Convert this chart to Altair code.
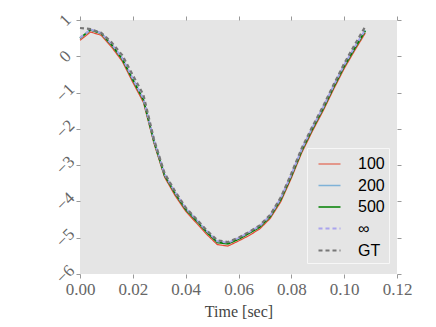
import altair as alt
import pandas as pd

t = [0.000, 0.004, 0.008, 0.012, 0.016, 0.020, 0.024, 0.028, 0.032, 0.036,
     0.040, 0.044, 0.048, 0.052, 0.056, 0.060, 0.064, 0.068, 0.072, 0.076,
     0.080, 0.084, 0.088, 0.092, 0.096, 0.100, 0.104, 0.108]

s100 = [0.44, 0.67, 0.58, 0.25, -0.14, -0.72, -1.27, -2.40, -3.33, -3.84,
        -4.27, -4.59, -4.91, -5.19, -5.23, -5.09, -4.94, -4.76, -4.47, -4.01,
        -3.36, -2.65, -2.06, -1.51, -0.91, -0.34, 0.16, 0.64]
s200 = [0.49, 0.73, 0.64, 0.32, -0.06, -0.63, -1.18, -2.33, -3.26, -3.76,
        -4.20, -4.51, -4.83, -5.11, -5.15, -5.02, -4.86, -4.69, -4.40, -3.92,
        -3.27, -2.56, -1.97, -1.42, -0.82, -0.25, 0.24, 0.72]
s500 = [0.50, 0.73, 0.63, 0.31, -0.08, -0.65, -1.20, -2.35, -3.28, -3.78,
        -4.22, -4.53, -4.85, -5.13, -5.17, -5.04, -4.88, -4.71, -4.42, -3.95,
        -3.30, -2.59, -2.00, -1.45, -0.85, -0.28, 0.22, 0.70]
sinf = [0.51, 0.74, 0.64, 0.33, -0.05, -0.62, -1.17, -2.32, -3.25, -3.75,
        -4.19, -4.50, -4.82, -5.10, -5.14, -5.01, -4.85, -4.68, -4.39, -3.91,
        -3.26, -2.55, -1.96, -1.41, -0.81, -0.24, 0.26, 0.73]
sgt = [0.78, 0.75, 0.65, 0.38, 0.03, -0.52, -1.06, -2.28, -3.22, -3.72,
       -4.17, -4.48, -4.80, -5.07, -5.12, -5.00, -4.84, -4.66, -4.37, -3.89,
       -3.23, -2.52, -1.93, -1.38, -0.78, -0.20, 0.32, 0.82]

series_names = ["100", "200", "500", "∞", "GT"]
series_vals = [s100, s200, s500, sinf, sgt]
colors = ["#e24a33", "#7fb2d8", "#008000", "#aaa4ee", "#777777"]
dashes = [[1, 0], [1, 0], [1, 0], [4, 3], [4, 3]]
widths = [1.2, 2.2, 1.3, 1.6, 1.0]

x_ticks = [0.0, 0.02, 0.04, 0.06, 0.08, 0.10, 0.12]
y_ticks = [1, 0, -1, -2, -3, -4, -5, -6]

rows = []
for name, vals in zip(series_names, series_vals):
    for ti, vi in zip(t, vals):
        rows.append({"t": ti, "v": vi, "s": name})
df = pd.DataFrame(rows)

xscale = alt.Scale(domain=[0, 0.12], nice=False, zero=False)
yscale = alt.Scale(domain=[-6, 1], nice=False, zero=False)

label_expr_y = "datum.value < 0 ? '−' + abs(datum.value) : '' + datum.value"

base = alt.Chart(df).mark_line().encode(
    x=alt.X("t:Q", scale=xscale,
            axis=alt.Axis(values=x_ticks, format=".2f", title="Time [sec]",
                          labelPadding=3, titlePadding=6, labelFlush=False)),
    y=alt.Y("v:Q", scale=yscale,
            axis=alt.Axis(values=y_ticks, title=None, labelAngle=315,
                          labelAlign="center", labelBaseline="middle",
                          labelPadding=11, labelExpr=label_expr_y,
                          labelFlush=False)),
    color=alt.Color("s:N", scale=alt.Scale(domain=series_names, range=colors),
                    title=None),
    strokeDash=alt.StrokeDash("s:N", scale=alt.Scale(domain=series_names, range=dashes),
                              title=None),
    strokeWidth=alt.StrokeWidth("s:N", scale=alt.Scale(domain=series_names, range=widths),
                                title=None),
    detail="s:N",
)

mirror = alt.Chart(df).mark_line(opacity=0).encode(
    x=alt.X("t:Q", scale=xscale,
            axis=alt.Axis(orient="top", values=x_ticks, labels=False, title=None)),
    y=alt.Y("v:Q", scale=yscale,
            axis=alt.Axis(orient="right", values=y_ticks, labels=False, title=None)),
)

chart = alt.layer(base, mirror).resolve_axis(
    x="independent", y="independent"
).properties(
    width=317, height=254,
    autosize=alt.AutoSizeParams(type="none"),
    padding={"left": 72, "top": 12, "right": 20, "bottom": 45},
).configure_view(
    fill="#e5e5e5", stroke=None
).configure_axis(
    domain=False, grid=False, ticks=True, tickSize=4, tickColor="#999999",
    labelFont="Liberation Serif", labelFontSize=17, labelColor="#666666",
    titleFont="Liberation Serif", titleFontSize=16, titleColor="#444444",
    titleFontWeight="normal",
).configure_legend(
    orient="none", legendX=227, legendY=128,
    fillColor="#e5e5e5", strokeColor="#f7f7f7", padding=4,
    symbolType="stroke", symbolSize=484,
    symbolOffset=6, labelOffset=16, rowPadding=1.5,
    labelFont="Liberation Sans", labelFontSize=16, labelColor="#000000",
)

chart.save("out.html", embed_options={"renderer": "svg", "actions": False})
